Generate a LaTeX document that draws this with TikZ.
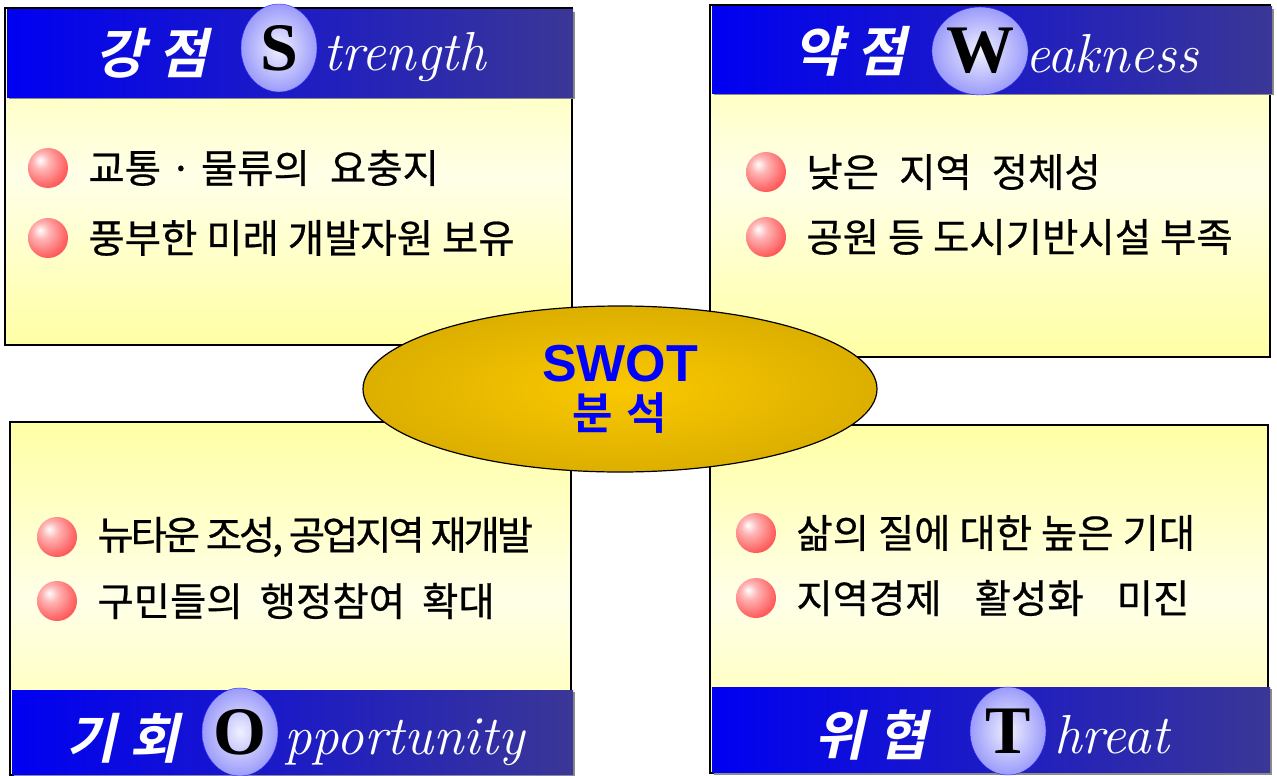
\documentclass[tikz,border=0pt]{standalone}
\usepackage{fontspec}
\usetikzlibrary{shapes.geometric, positioning}
\newfontfamily\krfont[FakeBold=0.6]{Noto Sans CJK KR}
\newfontfamily\krslant[FakeSlant=0.22]{Noto Sans CJK KR Bold}
\newfontfamily\krbold{Noto Sans CJK KR Bold}
\newfontfamily\arialfont{Liberation Sans}
\newfontfamily\timesfont{Liberation Serif}
\definecolor{bannerleft}{RGB}{0,0,242}
\definecolor{bannerright}{RGB}{58,55,150}
\definecolor{padyellow}{RGB}{255,255,165}
\definecolor{padlight}{RGB}{255,255,232}
\definecolor{goldin}{RGB}{250,200,0}
\definecolor{goldout}{RGB}{190,150,0}
\definecolor{letterin}{RGB}{240,240,255}
\definecolor{lettermid}{RGB}{145,145,250}
\definecolor{letterout}{RGB}{72,72,240}
\definecolor{beadred}{RGB}{255,45,45}
\pgfdeclareradialshading{redbead}{\pgfpoint{-10bp}{10bp}}{color(0bp)=(white); color(10bp)=(beadred!35!white); color(30bp)=(beadred!78!white); color(50bp)=(beadred!92!white); color(70bp)=(beadred)}
\pgfdeclareradialshading{bluebead}{\pgfpointorigin}{color(0bp)=(letterin); color(28bp)=(lettermid); color(50bp)=(letterout)}
\pgfdeclareradialshading{goldglow}{\pgfpointorigin}{color(0bp)=(goldin); color(50bp)=(goldout); color(70bp)=(goldout)}
\tikzstyle{pad} = [draw=black, line width=1.2pt, top color=padyellow, bottom color=padyellow, middle color=padlight]
\tikzstyle{banner} = [left color=bannerleft, right color=bannerright]
\tikzstyle{bannershade} = [fill=black!45]
\tikzstyle{bannerko} = [inner sep=0pt, text=white, font=\fontsize{54}{54}\selectfont\krslant]
\tikzstyle{letterball} = [ellipse, minimum width=76pt, minimum height=88pt, inner sep=0pt, draw=blue!85, shading=bluebead, font=\fontsize{68}{68}\selectfont\timesfont\bfseries]
\tikzstyle{banneren} = [anchor=base west, inner sep=0pt, text=white, font=\fontsize{55}{55}\selectfont\itshape]
\tikzstyle{dot} = [circle, minimum size=40pt, inner sep=0pt, shading=redbead]
\tikzstyle{item} = [inner sep=0pt, font=\fontsize{39.5}{40}\selectfont\krfont]
\tikzstyle{hub} = [ellipse, draw=black, line width=1.2pt, minimum width=514pt, minimum height=166pt, shading=goldglow, text=blue, align=center, inner sep=0pt, font=\fontsize{52}{48}\selectfont]
\begin{document}
\begin{tikzpicture}[x=1pt, y=-1pt]
\useasboundingbox (0,0) rectangle (1277,776);

% strength
\path [pad] (5,8) rectangle (572,345);
\path [bannershade] (9,12) rectangle (575,99);
\path [banner] (7,10) rectangle (573,97);
\node (strengthKo) [bannerko] at (152,53) {강\hspace{14pt}점};
\node (strengthBall) [letterball] at (279,48) {S};
\node (strengthEn) [banneren] at ([xshift=6pt]strengthBall.base -| strengthBall.east) {trength};
\node (strengthDotA) [dot] at (48,168) {};
\node (strengthDotB) [dot] at (48,238) {};
\node (strengthItemA) [item, right=20pt of strengthDotA] {교통 · 물류의\hspace{20pt}요충지};
\node (strengthItemB) [item, right=20pt of strengthDotB] {풍부한 미래 개발자원 보유};

% weakness
\path [pad] (710,5) rectangle (1270,357);
\path [bannershade] (714,9) rectangle (1274,95);
\path [banner] (712,7) rectangle (1272,93);
\node (weaknessKo) [bannerko] at (850,51) {약\hspace{14pt}점};
\node (weaknessBall) [letterball] at (980,51) {W};
\node (weaknessEn) [banneren] at ([xshift=-3pt]weaknessBall.base -| weaknessBall.east) {eakness};
\node (weaknessDotA) [dot] at (766,172) {};
\node (weaknessDotB) [dot] at (766,237) {};
\node (weaknessItemA) [item, right=20pt of weaknessDotA] {낮은\hspace{20pt}지역\hspace{20pt}정체성};
\node (weaknessItemB) [item, right=20pt of weaknessDotB] {공원 등 도시기반시설 부족};

% opportunity
\path [pad] (10,422) rectangle (571,775);
\path [bannershade] (14,692) rectangle (575,776);
\path [banner] (12,690) rectangle (573,774);
\node (opportunityKo) [bannerko] at (123,738) {기\hspace{14pt}회};
\node (opportunityBall) [letterball] at (240,732) {O};
\node (opportunityEn) [banneren] at ([xshift=6pt]opportunityBall.base -| opportunityBall.east) {pportunity};
\node (opportunityDotA) [dot] at (57,537) {};
\node (opportunityDotB) [dot] at (57,601) {};
\node (opportunityItemA) [item, right=20pt of opportunityDotA] {\addfontfeature{LetterSpace=-8}뉴타운 조성, 공업지역 재개발};
\node (opportunityItemB) [item, right=20pt of opportunityDotB] {구민들의\hspace{17pt}행정참여\hspace{17pt}확대};

% threat
\path [pad] (710,425) rectangle (1268,773);
\path [bannershade] (714,689) rectangle (1272,775);
\path [banner] (712,687) rectangle (1270,772);
\node (threatKo) [bannerko] at (871,735) {위\hspace{14pt}협};
\node (threatBall) [letterball] at (1008,731) {T};
\node (threatEn) [banneren] at ([xshift=8pt]threatBall.base -| threatBall.east) {hreat};
\node (threatDotA) [dot] at (756,533) {};
\node (threatDotB) [dot] at (756,598) {};
\node (threatItemA) [item, right=20pt of threatDotA] {삶의 질에 대한 높은 기대};
\node (threatItemB) [item, right=20pt of threatDotB] {지역경제\hspace{33pt}활성화\hspace{33pt}미진};

% centre
\node (core) [hub] at (620,389) {{\arialfont\bfseries SWOT}\\{\fontsize{44}{48}\selectfont\krbold 분\hspace{14pt}석}};

\end{tikzpicture}
\end{document}
